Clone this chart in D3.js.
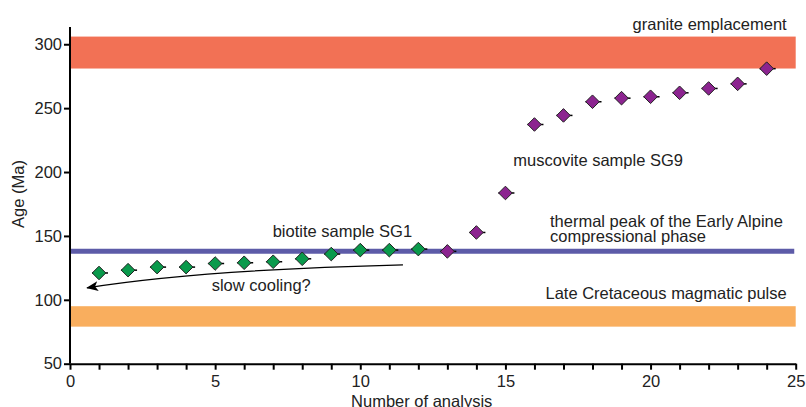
<!DOCTYPE html>
<html>
<head>
<meta charset="utf-8">
<script src="https://cdn.jsdelivr.net/npm/d3@7"></script>
<style>
  html, body { margin: 0; padding: 0; background: #fff; }
  svg { display: block; font-family: "Liberation Sans", Arial, sans-serif; }
</style>
</head>
<body>
<svg id="chart" width="806" height="407"></svg>
<script>
// Ar-Ar ages per analysis
const biotiteN = [1, 2, 3, 4, 5, 6, 7, 8, 9, 10, 11, 12];
const biotiteAge = [121, 123.2, 125.6, 125.6, 128.4, 129, 129.8, 132.1, 135.8, 138.9, 138.9, 139.7];
const muscoviteN = [13, 14, 15, 16, 17, 18, 19, 20, 21, 22, 23, 24];
const muscoviteAge = [137.9, 152.7, 183.6, 237.2, 244.3, 255, 257.8, 258.9, 262, 265.4, 269, 280.9];

// Reference events (Ma)
const graniteBand = [281, 306];
const lateCretaceousBand = [79, 95];
const thermalPeak = 138;

const xTicks = [0, 5, 10, 15, 20, 25];
const yTicks = [50, 100, 150, 200, 250, 300];

const svg = d3.select("#chart");
const x = d3.scaleLinear().domain([0, 25]).range([70, 795.7]);
const y = d3.scaleLinear().domain([50, 313.5]).range([363.7, 27]);

const textColor = "#222";

// Event bands
svg.append("rect")
  .attr("x", x(0)).attr("width", x(25) - x(0))
  .attr("y", y(graniteBand[1])).attr("height", y(graniteBand[0]) - y(graniteBand[1]))
  .attr("fill", "#F27155");
svg.append("rect")
  .attr("x", x(0)).attr("width", x(25) - x(0))
  .attr("y", y(lateCretaceousBand[1])).attr("height", y(lateCretaceousBand[0]) - y(lateCretaceousBand[1]))
  .attr("fill", "#F9AE5E");
svg.append("line")
  .attr("x1", x(0)).attr("x2", x(24.95))
  .attr("y1", y(thermalPeak)).attr("y2", y(thermalPeak))
  .attr("stroke", "#5D5BA8").attr("stroke-width", 5);

// Axes
const xAxis = svg.append("g")
  .attr("transform", `translate(0,${y(50)})`)
  .call(d3.axisBottom(x).tickValues(d3.range(0, 26)).tickSize(6).tickSizeOuter(0)
    .tickFormat(d => xTicks.includes(d) ? d : ""));
const yAxis = svg.append("g")
  .attr("transform", `translate(${x(0)},0)`)
  .call(d3.axisLeft(y).tickValues(yTicks).tickSize(6).tickSizeOuter(0));

[xAxis, yAxis].forEach(g => {
  g.select(".domain").attr("stroke", "#000").attr("stroke-width", 2);
  g.selectAll(".tick line").attr("stroke", "#000").attr("stroke-width", 2);
  g.selectAll(".tick text").attr("fill", textColor)
    .style("font-size", "16.5px").style("font-family", "'Liberation Sans', Arial, sans-serif");
});
xAxis.selectAll(".tick text").attr("dy", "0.72em").attr("y", 11);
yAxis.selectAll(".tick text").attr("x", -8);
yAxis.select(".domain").attr("d", `M0,${y(50)}V${y(313.5)}`);

// Axis titles
svg.append("text")
  .attr("x", 421.7).attr("y", 406.5)
  .attr("text-anchor", "middle").attr("fill", textColor)
  .style("font-size", "16.5px")
  .text("Number of analysis");
svg.append("text")
  .attr("transform", `translate(23.5,194) rotate(-90)`)
  .attr("text-anchor", "middle").attr("fill", textColor)
  .style("font-size", "16.5px")
  .text("Age (Ma)");

// Slow-cooling arrow
const defs = svg.append("defs");
defs.append("marker")
  .attr("id", "arrowhead")
  .attr("viewBox", "0 0 12 10")
  .attr("refX", 11).attr("refY", 5)
  .attr("markerWidth", 12).attr("markerHeight", 10)
  .attr("markerUnits", "userSpaceOnUse")
  .attr("orient", "auto")
  .append("path")
  .attr("d", "M0,0 L12,5 L0,10 L3,5 Z")
  .attr("fill", "#000");

const arrowPts = [[11.47, 127.4], [4.48, 123.5], [0.59, 109.4]];
const arrowPath = d3.path();
arrowPath.moveTo(x(arrowPts[0][0]), y(arrowPts[0][1]));
arrowPath.quadraticCurveTo(x(arrowPts[1][0]), y(arrowPts[1][1]), x(arrowPts[2][0]), y(arrowPts[2][1]));
svg.append("path")
  .attr("d", arrowPath.toString())
  .attr("fill", "none").attr("stroke", "#000").attr("stroke-width", 1.3)
  .attr("marker-end", "url(#arrowhead)");

// Data points: small horizontal bar behind each diamond
function drawSeries(ns, ages, color) {
  const data = ns.map((n, i) => ({ n, age: ages[i] }));
  const g = svg.append("g");
  g.selectAll("line.err").data(data).join("line")
    .attr("class", "err")
    .attr("x1", d => x(d.n) - 7).attr("x2", d => x(d.n) + 9)
    .attr("y1", d => y(d.age)).attr("y2", d => y(d.age))
    .attr("stroke", "#000").attr("stroke-width", 1.5);
  g.selectAll("path.pt").data(data).join("path")
    .attr("class", "pt")
    .attr("transform", d => `translate(${x(d.n)},${y(d.age)})`)
    .attr("d", "M0,-6.8 L6.8,0 L0,6.8 L-6.8,0 Z")
    .attr("fill", color).attr("stroke", "#222").attr("stroke-width", 1);
}
drawSeries(biotiteN, biotiteAge, "#0A9A4C");
drawSeries(muscoviteN, muscoviteAge, "#8C2490");

// Annotations
const labels = [
  { t: "granite emplacement", x: 786.7, y: 30, a: "end" },
  { t: "muscovite sample SG9", x: 513.3, y: 165.5, a: "start" },
  { t: "biotite sample SG1", x: 272.7, y: 237, a: "start" },
  { t: "slow cooling?", x: 211.7, y: 291, a: "start" },
  { t: "thermal peak of the Early Alpine", x: 550, y: 226.7, a: "start" },
  { t: "compressional phase", x: 550, y: 241.5, a: "start" },
  { t: "Late Cretaceous magmatic pulse", x: 786.7, y: 299, a: "end" }
];
svg.append("g").selectAll("text").data(labels).join("text")
  .attr("x", d => d.x).attr("y", d => d.y)
  .attr("text-anchor", d => d.a)
  .attr("fill", textColor)
  .style("font-size", "16.5px")
  .text(d => d.t);
</script>
</body>
</html>
